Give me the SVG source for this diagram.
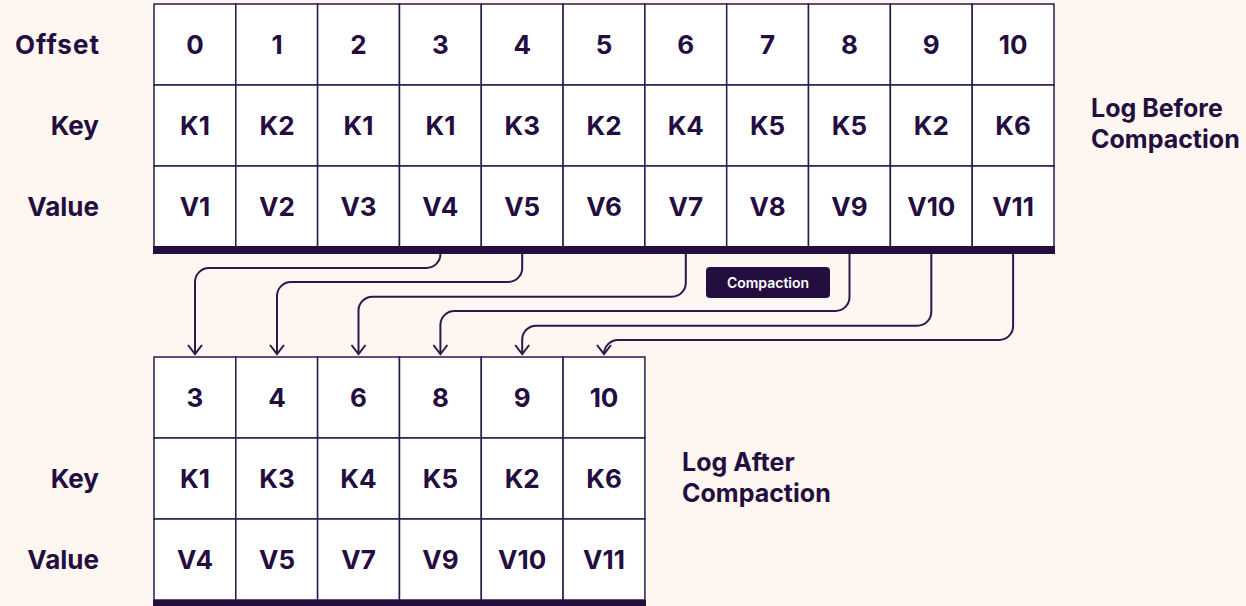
<svg xmlns="http://www.w3.org/2000/svg" width="1246" height="606" viewBox="0 0 1246 606">
<defs>
<style>
.bg{fill:#FDF6F1}
.cell{fill:#FFFFFF;stroke:#2A1A4A;stroke-width:1.5}
.bar{fill:#230E3F}
.t{font-family:Inter,"Liberation Sans",sans-serif;font-weight:700;font-size:26px;fill:#230E3F;text-anchor:middle}
.lbl{font-family:Inter,"Liberation Sans",sans-serif;font-weight:700;font-size:26px;fill:#230E3F;text-anchor:end}
.side{font-family:Inter,"Liberation Sans",sans-serif;font-weight:700;font-size:25px;fill:#230E3F}
.conn{fill:none;stroke:#2A1A4A;stroke-width:2}
.btn{fill:#230E3F}
.btnt{font-family:Inter,"Liberation Sans",sans-serif;font-weight:600;font-size:14px;fill:#FFFFFF;text-anchor:middle}
</style>
<marker id="ah" markerUnits="userSpaceOnUse" markerWidth="12" markerHeight="18" refX="10" refY="9" orient="auto" viewBox="0 0 12 18">
<path d="M1,2 L10,9 L1,16" fill="none" stroke="#2A1A4A" stroke-width="2"/>
</marker>
</defs>
<rect class="bg" x="0" y="0" width="1246" height="606"/>

<g id="row-labels-top">
<text class="lbl" x="99" y="54" textLength="84" lengthAdjust="spacing">Offset</text>
<text class="lbl" x="99" y="135">Key</text>
<text class="lbl" x="99" y="216">Value</text>
</g>

<g id="log-before">
<g id="before-cells">
<rect class="cell" x="154" y="4" width="81.8" height="81"/><rect class="cell" x="235.8" y="4" width="81.8" height="81"/><rect class="cell" x="317.6" y="4" width="81.8" height="81"/><rect class="cell" x="399.5" y="4" width="81.8" height="81"/><rect class="cell" x="481.3" y="4" width="81.8" height="81"/><rect class="cell" x="563.1" y="4" width="81.8" height="81"/><rect class="cell" x="644.9" y="4" width="81.8" height="81"/><rect class="cell" x="726.7" y="4" width="81.8" height="81"/><rect class="cell" x="808.5" y="4" width="81.8" height="81"/><rect class="cell" x="890.4" y="4" width="81.8" height="81"/><rect class="cell" x="972.2" y="4" width="81.8" height="81"/>
<rect class="cell" x="154" y="85" width="81.8" height="81"/><rect class="cell" x="235.8" y="85" width="81.8" height="81"/><rect class="cell" x="317.6" y="85" width="81.8" height="81"/><rect class="cell" x="399.5" y="85" width="81.8" height="81"/><rect class="cell" x="481.3" y="85" width="81.8" height="81"/><rect class="cell" x="563.1" y="85" width="81.8" height="81"/><rect class="cell" x="644.9" y="85" width="81.8" height="81"/><rect class="cell" x="726.7" y="85" width="81.8" height="81"/><rect class="cell" x="808.5" y="85" width="81.8" height="81"/><rect class="cell" x="890.4" y="85" width="81.8" height="81"/><rect class="cell" x="972.2" y="85" width="81.8" height="81"/>
<rect class="cell" x="154" y="166" width="81.8" height="81"/><rect class="cell" x="235.8" y="166" width="81.8" height="81"/><rect class="cell" x="317.6" y="166" width="81.8" height="81"/><rect class="cell" x="399.5" y="166" width="81.8" height="81"/><rect class="cell" x="481.3" y="166" width="81.8" height="81"/><rect class="cell" x="563.1" y="166" width="81.8" height="81"/><rect class="cell" x="644.9" y="166" width="81.8" height="81"/><rect class="cell" x="726.7" y="166" width="81.8" height="81"/><rect class="cell" x="808.5" y="166" width="81.8" height="81"/><rect class="cell" x="890.4" y="166" width="81.8" height="81"/><rect class="cell" x="972.2" y="166" width="81.8" height="81"/>
<rect class="bar" x="153" y="246" width="902" height="8"/>
</g>
<g id="before-text">
<text class="t" x="195" y="54">0</text><text class="t" x="277" y="54">1</text><text class="t" x="358.5" y="54">2</text><text class="t" x="440.4" y="54">3</text><text class="t" x="522.2" y="54">4</text><text class="t" x="604" y="54">5</text><text class="t" x="685.8" y="54">6</text><text class="t" x="767.6" y="54">7</text><text class="t" x="849.5" y="54">8</text><text class="t" x="931.3" y="54">9</text><text class="t" x="1013.1" y="54">10</text>
<text class="t" x="195" y="135">K1</text><text class="t" x="277" y="135">K2</text><text class="t" x="358.5" y="135">K1</text><text class="t" x="440.4" y="135">K1</text><text class="t" x="522.2" y="135">K3</text><text class="t" x="604" y="135">K2</text><text class="t" x="685.8" y="135">K4</text><text class="t" x="767.6" y="135">K5</text><text class="t" x="849.5" y="135">K5</text><text class="t" x="931.3" y="135">K2</text><text class="t" x="1013.1" y="135">K6</text>
<text class="t" x="195" y="216">V1</text><text class="t" x="277" y="216">V2</text><text class="t" x="358.5" y="216">V3</text><text class="t" x="440.4" y="216">V4</text><text class="t" x="522.2" y="216">V5</text><text class="t" x="604" y="216">V6</text><text class="t" x="685.8" y="216">V7</text><text class="t" x="767.6" y="216">V8</text><text class="t" x="849.5" y="216">V9</text><text class="t" x="931.3" y="216">V10</text><text class="t" x="1013.1" y="216">V11</text>
</g>
</g>

<g id="label-before">
<text class="side" x="1091" y="117">Log Before</text>
<text class="side" x="1091" y="148">Compaction</text>
</g>

<g id="compaction-button">
<rect class="btn" x="706" y="267" width="124" height="31" rx="4"/>
<text class="btnt" x="768" y="288">Compaction</text>
</g>

<g id="connectors">
<path class="conn" marker-end="url(#ah)" d="M440.4 254 A14 14 0 0 1 426.4 268 H209 A14 14 0 0 0 195 282 V354"/>
<path class="conn" marker-end="url(#ah)" d="M522.2 254 V268 A14 14 0 0 1 508.2 282 H291 A14 14 0 0 0 277 296 V354"/>
<path class="conn" marker-end="url(#ah)" d="M685.8 254 V282.7 A14 14 0 0 1 671.8 296.7 H372.5 A14 14 0 0 0 358.5 310.7 V354"/>
<path class="conn" marker-end="url(#ah)" d="M849.5 254 V297 A14 14 0 0 1 835.5 311 H454.4 A14 14 0 0 0 440.4 325 V354"/>
<path class="conn" marker-end="url(#ah)" d="M931.3 254 V311.7 A14 14 0 0 1 917.3 325.7 H536.2 A14 14 0 0 0 522.2 339.7 V354"/>
<path class="conn" marker-end="url(#ah)" d="M1013.1 254 V326 A14 14 0 0 1 999.1 340 H618 A14 14 0 0 0 604 354"/>
</g>

<g id="row-labels-bottom">
<text class="lbl" x="99" y="488">Key</text>
<text class="lbl" x="99" y="569">Value</text>
</g>

<g id="log-after">
<g id="after-cells">
<rect class="cell" x="154" y="357" width="81.8" height="81"/><rect class="cell" x="235.8" y="357" width="81.8" height="81"/><rect class="cell" x="317.6" y="357" width="81.8" height="81"/><rect class="cell" x="399.5" y="357" width="81.8" height="81"/><rect class="cell" x="481.3" y="357" width="81.8" height="81"/><rect class="cell" x="563.1" y="357" width="81.8" height="81"/>
<rect class="cell" x="154" y="438" width="81.8" height="81"/><rect class="cell" x="235.8" y="438" width="81.8" height="81"/><rect class="cell" x="317.6" y="438" width="81.8" height="81"/><rect class="cell" x="399.5" y="438" width="81.8" height="81"/><rect class="cell" x="481.3" y="438" width="81.8" height="81"/><rect class="cell" x="563.1" y="438" width="81.8" height="81"/>
<rect class="cell" x="154" y="519" width="81.8" height="81"/><rect class="cell" x="235.8" y="519" width="81.8" height="81"/><rect class="cell" x="317.6" y="519" width="81.8" height="81"/><rect class="cell" x="399.5" y="519" width="81.8" height="81"/><rect class="cell" x="481.3" y="519" width="81.8" height="81"/><rect class="cell" x="563.1" y="519" width="81.8" height="81"/>
<rect class="bar" x="153" y="600" width="493" height="6"/>
</g>
<g id="after-text">
<text class="t" x="195" y="407">3</text><text class="t" x="277" y="407">4</text><text class="t" x="358.5" y="407">6</text><text class="t" x="440.4" y="407">8</text><text class="t" x="522.2" y="407">9</text><text class="t" x="604" y="407">10</text>
<text class="t" x="195" y="488">K1</text><text class="t" x="277" y="488">K3</text><text class="t" x="358.5" y="488">K4</text><text class="t" x="440.4" y="488">K5</text><text class="t" x="522.2" y="488">K2</text><text class="t" x="604" y="488">K6</text>
<text class="t" x="195" y="569">V4</text><text class="t" x="277" y="569">V5</text><text class="t" x="358.5" y="569">V7</text><text class="t" x="440.4" y="569">V9</text><text class="t" x="522.2" y="569">V10</text><text class="t" x="604" y="569">V11</text>
</g>
</g>

<g id="label-after">
<text class="side" x="682" y="471">Log After</text>
<text class="side" x="682" y="502">Compaction</text>
</g>
</svg>
